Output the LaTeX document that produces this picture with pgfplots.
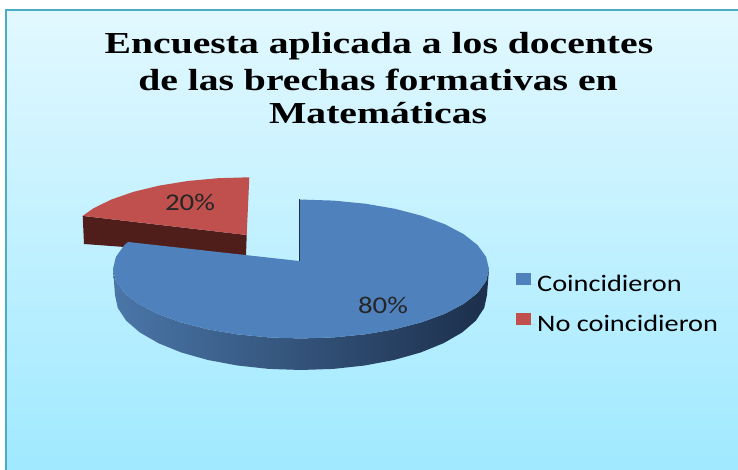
\documentclass[border=0pt]{standalone}
\usepackage{fontspec}
\usepackage{pgfplots}
\pgfplotsset{compat=1.18}
\usetikzlibrary{shadings}
\newfontfamily\titlefont[FakeStretch=1.3]{Liberation Serif}
\newfontfamily\labfont[FakeStretch=1.2]{Carlito}
\definecolor{bord}{HTML}{4BACC6}
\definecolor{bgtop}{HTML}{E2F8FF}
\definecolor{bgbot}{HTML}{A0E9FF}
\definecolor{pieblue}{HTML}{4F81BD}
\definecolor{piered}{HTML}{C0504D}
\definecolor{reddark}{HTML}{4F1E1B}
\definecolor{sideL}{HTML}{4A76A8}
\definecolor{sideM}{HTML}{2F4D75}
\definecolor{sideR}{HTML}{1C2F4B}
\begin{document}
\begin{tikzpicture}
\begin{axis}[
  width=738pt, height=470pt, scale only axis,
  xmin=0, xmax=738, ymin=0, ymax=470, y dir=reverse,
  hide axis, clip=true,
  legend cell align=left,
  legend style={at={(axis cs:516,273)}, anchor=north west, draw=none, fill=none,
    font=\labfont\fontsize{23.6}{26}\selectfont, row sep=19pt, inner sep=0pt,
    nodes={inner sep=1pt}},
  legend image code/.code={\fill[#1] (0pt,-1pt) rectangle (15pt,11pt); \path (0pt,0pt) -- (20pt,0pt);},
]
% page and panel
\addplot[forget plot, draw=none, fill=white] coordinates {(0,0) (738,0) (738,470) (0,470)} -- cycle;
\addplot[forget plot, draw=bord, line width=1.6pt, top color=bgtop, bottom color=bgbot] coordinates {(6,472) (6,10) (740,10) (740,472)} -- cycle;
% exploded slice: side and top
\addplot[forget plot, draw=none, fill=reddark] coordinates {(82.7,215.9) (84,244) (246,256) (246.7,235)} -- cycle;
\addplot[forget plot, draw=none, fill=piered] coordinates {(246.7,235) (249.3,177.3) (218,178.2) (187.7,181) (159.3,185.6) (133.6,191.8) (111.4,199.5) (93.4,208.3) (82.7,215.9)} -- cycle;
% main slice: side
\addplot[forget plot, draw=none, left color=sideL, middle color=sideM, right color=sideR]
 coordinates {(489,269) (486.1,281.1) (477.7,292.8) (463.8,303.75) (445,313.7) (421.8,322.2) (395,329.2) (365.3,334.3) (333.6,337.4) (301,338.5) (268.4,337.4) (236.7,334.3) (207,329.2) (180.2,322.2) (157,313.7) (138.2,303.75) (124.3,292.8) (115.9,281.1) (113,269)
 (115,295) (117.8,308) (126.2,320.7) (139.9,332.5) (158.5,343.2) (181.4,352.5) (208,360) (237.4,365.5) (268.7,368.9) (301,370) (333.3,368.9) (364.6,365.5) (394,360) (420.6,352.5) (443.5,343.2) (462.1,332.5) (475.8,320.7) (484.2,308) (487,295)} -- cycle;
% main slice: top
\addplot[draw=none, fill=pieblue] coordinates {(299,261) (299,199.5) (333.6,200.6) (365.3,203.7) (395,208.8) (421.8,215.8) (445,224.3) (463.8,234.25) (477.7,245.2) (486.1,256.9) (489,269) (486.1,281.1) (477.7,292.8) (463.8,303.75) (445,313.7) (421.8,322.2) (395,329.2) (365.3,334.3) (333.6,337.4) (301,338.5) (268.4,337.4) (236.7,334.3) (207,329.2) (180.2,322.2) (157,313.7) (138.2,303.75) (124.3,292.8) (115.9,281.1) (113,269) (115.9,256.9) (124.3,245.2) (128,242)} -- cycle;
\addlegendentry{Coincidieron}
\addplot[forget plot, draw=sideR, line width=0.5pt] coordinates {(299,199.5) (299,261)};
% legend entry of the slice
\addplot[draw=none, fill=piered] coordinates {(246.7,235) (246.7,235.1) (246.8,235)} -- cycle;
\addlegendentry{No coincidieron}
% labels
\node[font=\labfont\fontsize{24}{26}\selectfont, text=black!85] at (axis cs:190,202) {20\%};
\node[font=\labfont\fontsize{24}{26}\selectfont, text=black!85] at (axis cs:383,305) {80\%};
% title
\node[anchor=base, font=\titlefont\bfseries\fontsize{30.5}{32}\selectfont] at (axis cs:379,54) {Encuesta aplicada a los docentes};
\node[anchor=base, font=\titlefont\bfseries\fontsize{30.5}{32}\selectfont] at (axis cs:378,91) {de las brechas formativas en};
\node[anchor=base, font=\titlefont\bfseries\fontsize{30.5}{32}\selectfont] at (axis cs:378,124) {Matemáticas};
\end{axis}
\end{tikzpicture}
\end{document}
